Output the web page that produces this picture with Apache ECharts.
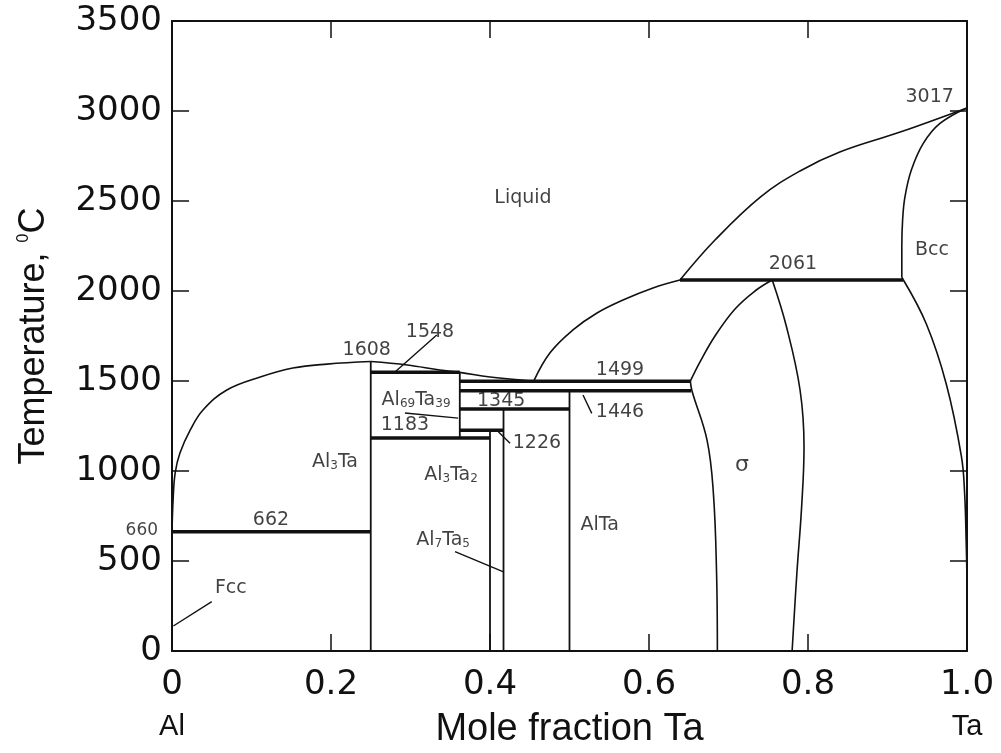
<!DOCTYPE html>
<html><head><meta charset="utf-8">
<script src="https://cdn.jsdelivr.net/npm/echarts@6/dist/echarts.min.js"></script>
<style>html,body{margin:0;padding:0;background:#fff}#c{width:1001px;height:753px}</style>
</head><body><div id="c"></div>
<script>
// ---- tick labels ----
const xTickLabels = ['0','0.2','0.4','0.6','0.8','1.0'];
const yTickLabels = ['0','500','1000','1500','2000','2500','3000','3500'];
const elementNames = ['Al','Ta'];

// ---- phase boundaries: [mole fraction Ta, temperature °C] ----
const liquidusAl = [[0,660],[0.0015,850],[0.004,990],[0.01,1100],[0.023,1228],[0.039,1339],[0.069,1450],[0.111,1522],[0.152,1572],[0.195,1594],[0.25,1608]];
const liquidusAl3Ta = [[0.25,1608],[0.296,1589],[0.337,1561],[0.362,1548],[0.40,1522],[0.455,1499]];
const liquidusMid = [[0.455,1499],[0.4755,1657],[0.5044,1784],[0.5346,1878],[0.5673,1950],[0.605,2017],[0.639,2061]];
const liquidusTa = [[0.639,2061],[0.683,2283],[0.74,2522],[0.79,2667],[0.84,2772],[0.916,2883],[1.0,3017]];
const solidusBcc = [[1.0,3017],[0.966,2931],[0.945,2820],[0.930,2672],[0.922,2524],[0.919,2394],[0.918,2246],[0.918,2080],[0.92,2061]];
const solvusBcc = [[0.92,2061],[0.949,1815],[0.974,1482],[0.993,1080],[0.997,876],[0.999,600],[1.0,400]];
const sigmaLeftUpper = [[0.755,2061],[0.7333,2000],[0.7082,1900],[0.683,1750],[0.6642,1606],[0.652,1499]];
const sigmaLeftLower = [[0.652,1499],[0.654,1446],[0.673,1172],[0.681,876],[0.685,432],[0.686,0]];
const sigmaRight = [[0.755,2061],[0.773,1800],[0.79,1450],[0.795,1135],[0.792,802],[0.786,432],[0.78,0]];

// ---- invariant (horizontal) reactions ----
const invariantT    = [662, 1183, 1226, 1345, 1446, 1499, 1548, 2061];
const invariantFrom = [0,   0.25, 0.362,0.362,0.362,0.362,0.25, 0.639];
const invariantTo   = [0.25,0.40, 0.417,0.5,  0.653,0.652,0.362,0.92];

// ---- line compounds (vertical) ----
const compoundX    = [0.25, 0.362, 0.40, 0.417, 0.5];
const compoundLow  = [0,    1183,  0,    0,     0];
const compoundHigh = [1608, 1548,  1226, 1345,  1446];

// ---- leader lines ----
const leaderLines = [
  [[0.333,1756],[0.2805,1550]],
  [[0.293,1322],[0.36,1294]],
  [[0.4105,1218],[0.4252,1154]],
  [[0.517,1422],[0.528,1320]],
  [[0.356,552],[0.417,440]],
  [[0.05,274],[0.0017,139]]
];

// ---- annotations ----
const labelText = ['Liquid','1608','1548','Al{s|69}Ta{s|39}','1183','1345','1226','1499','1446','2061','3017','Bcc','{g|σ}','Al{s|3}Ta','Al{s|3}Ta{s|2}','Al{s|7}Ta{s|5}','AlTa','Fcc','662','{m|660}'];
const labelX = [0.4415,0.245,0.3245,0.307,0.293,0.414,0.459,0.5635,0.5635,0.781,0.953,0.956,0.717,0.205,0.351,0.341,0.538,0.074,0.1245,-0.038];
const labelT = [2517,1672,1770,1394,1256,1389,1156,1561,1328,2150,3078,2228,1033,1050,978,617,700,350,728,667];

const INK = '#111';
function curve(data, width, smooth) {
  return {type:'line', data, symbol:'none', smooth: smooth ? 0.4 : false, clip:false,
    lineStyle:{color:INK, width}, silent:true, animation:false};
}
const series = [];
[liquidusAl, liquidusAl3Ta, liquidusMid, liquidusTa, solidusBcc, solvusBcc, sigmaLeftUpper, sigmaLeftLower, sigmaRight]
  .forEach(d => series.push(curve(d, 1.6, true)));
invariantT.forEach((t,i) => series.push(curve([[invariantFrom[i],t],[invariantTo[i],t]], 3.5, false)));
compoundX.forEach((x,i) => series.push(curve([[x,compoundLow[i]],[x,compoundHigh[i]]], 1.8, false)));
leaderLines.forEach(seg => series.push(curve(seg, 1.4, false)));
series.push({
  type:'scatter', symbolSize:0, clip:false, silent:true, animation:false,
  data: labelText.map((t,i) => ({value:[labelX[i], labelT[i]], name:t})),
  label:{show:true, position:'inside', formatter: p => p.name, color:INK,
    fontSize:19, fontFamily:'DejaVu Sans',
    rich:{
      s:{fontSize:12, fontFamily:'DejaVu Sans', color:INK, verticalAlign:'bottom'},
      m:{fontSize:17, fontFamily:'DejaVu Sans', color:INK},
      g:{fontSize:22, fontFamily:'DejaVu Sans', color:INK}
    }}
});

const axisLineStyle = {show:true, onZero:false, lineStyle:{color:INK, width:2}};
const tickStyle = {show:true, inside:true, length:17, lineStyle:{color:INK, width:1.5}};
const option = {
  backgroundColor:'#fff',
  animation:false,
  grid:{left:172, right:34, top:21, bottom:102, containLabel:false, outerBoundsMode:'none'},
  xAxis:[{
    type:'value', min:0, max:1, interval:0.2, position:'bottom',
    axisLine:axisLineStyle, axisTick:tickStyle, splitLine:{show:false},
    axisLabel:{margin:15, showMinLabel:true, showMaxLabel:true,
      formatter: v => {
        const i = Math.round(v/0.2);
        let s = '{n|' + xTickLabels[i] + '}';
        if (i === 0) s += '\n{e|' + elementNames[0] + '}';
        if (i === xTickLabels.length-1) s += '\n{e|' + elementNames[1] + '}';
        return s;
      },
      rich:{
        n:{fontSize:34, fontFamily:'DejaVu Sans', color:INK, lineHeight:38},
        e:{fontSize:29, fontFamily:'Liberation Sans', color:INK, lineHeight:46}
      }},
    name:'Mole fraction Ta', nameLocation:'middle', nameGap:60, nameMoveOverlap:false,
    nameTextStyle:{fontSize:38, fontFamily:'Liberation Sans', color:INK}
  },{
    type:'value', min:0, max:1, interval:0.2, position:'top',
    axisLine:axisLineStyle, axisTick:tickStyle, axisLabel:{show:false}, splitLine:{show:false}
  }],
  yAxis:[{
    type:'value', min:0, max:3500, interval:500, position:'left',
    axisLine:axisLineStyle, axisTick:tickStyle, splitLine:{show:false},
    axisLabel:{margin:10, fontSize:34, fontFamily:'DejaVu Sans', color:INK,
      formatter: v => yTickLabels[Math.round(v/500)]},
    name:'Temperature, {sup|0}C', nameLocation:'middle', nameGap:120, nameMoveOverlap:false,
    nameTextStyle:{fontSize:36, fontFamily:'Liberation Sans', color:INK,
      rich:{sup:{fontSize:16, fontFamily:'Liberation Sans', color:INK, verticalAlign:'top'}}}
  },{
    type:'value', min:0, max:3500, interval:500, position:'right',
    axisLine:axisLineStyle, axisTick:tickStyle, axisLabel:{show:false}, splitLine:{show:false}
  }],
  series
};
const chart = echarts.init(document.getElementById('c'), null, {renderer:'canvas'});
chart.setOption(option);
</script>
</body></html>
